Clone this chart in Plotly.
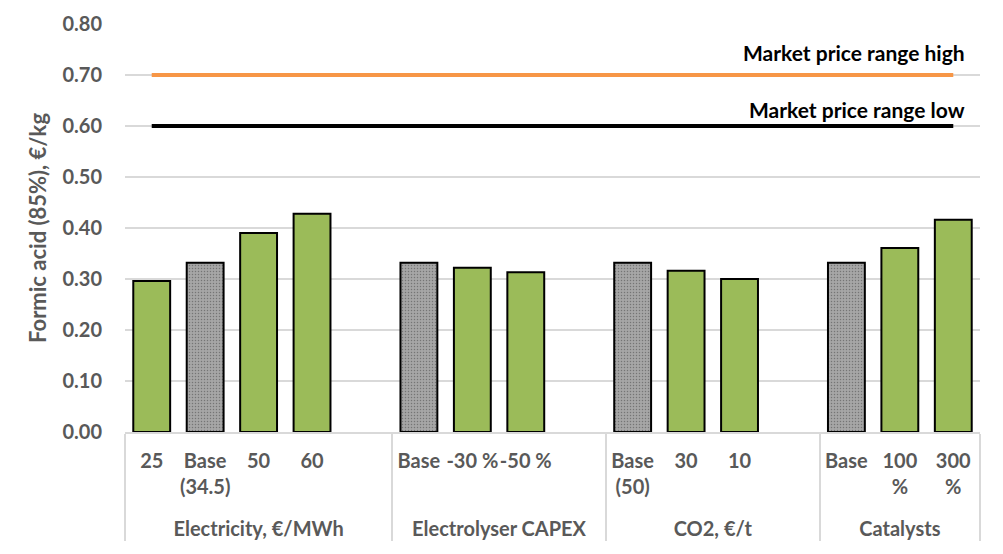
import plotly.graph_objects as go

groups = ["Electricity, €/MWh"] * 5 + ["Electrolyser CAPEX"] * 4 + ["CO2, €/t"] * 4 + ["Catalysts"] * 3
cats = ["25", "Base<br>(34.5)", "50", "60", " ",
        "Base", "-30 %", "-50 %", "  ",
        "Base<br>(50)", "30", "10", "   ",
        "Base", "100<br>%", "300<br>%"]
values = [0.296, 0.332, 0.390, 0.428, None,
          0.332, 0.322, 0.313, None,
          0.332, 0.316, 0.300, None,
          0.332, 0.361, 0.416]
is_base = [False, True, False, False, False,
           True, False, False, False,
           True, False, False, False,
           True, False, False]
market_high = [0.70] * len(cats)
market_low = [0.60] * len(cats)

GREEN = "#9BBB59"
GRAY = "#A6A6A6"
TXT = "#595959"
FONT = "Lato"

colors = [GRAY if b else GREEN for b in is_base]
patterns = ["." if b else "" for b in is_base]
# group labels sit one text line lower, below the two-line category labels
group_labels = ["<br>" + g for g in groups]

fig = go.Figure()
fig.add_trace(go.Bar(
    x=[group_labels, cats], y=values,
    marker=dict(color=colors, line=dict(color="black", width=2),
                pattern=dict(shape=patterns, fgcolor="#969696", bgcolor=GRAY, size=3, solidity=0.2)),
    width=0.69, showlegend=False, hoverinfo="y",
))
fig.add_trace(go.Scatter(x=[group_labels, cats], y=market_high, mode="lines",
                         line=dict(color="#F79646", width=4), showlegend=False))
fig.add_trace(go.Scatter(x=[group_labels, cats], y=market_low, mode="lines",
                         line=dict(color="black", width=4), showlegend=False))

fig.add_annotation(text="<b>Market price range high</b>", xref="paper", yref="y",
                   x=0.985, y=0.744, xanchor="right", yanchor="middle", showarrow=False,
                   font=dict(family=FONT, size=21, color="black"))
fig.add_annotation(text="<b>Market price range low</b>", xref="paper", yref="y",
                   x=0.985, y=0.632, xanchor="right", yanchor="middle", showarrow=False,
                   font=dict(family=FONT, size=21, color="black"))

fig.update_layout(
    width=1003, height=554,
    margin=dict(l=125, r=23, t=24, b=122),
    paper_bgcolor="white", plot_bgcolor="white",
    font=dict(family=FONT, color=TXT),
    bargap=0.3,
    xaxis=dict(type="multicategory", showline=True, linecolor="#D9D9D9", linewidth=1.5,
               showdividers=True, dividercolor="#D9D9D9", dividerwidth=1.5,
               tickfont=dict(family=FONT, size=20, color=TXT, weight="bold"),
               tickangle=0, ticklabelstandoff=10, automargin=False,
               showgrid=False, ticks=""),
    yaxis=dict(range=[0, 0.8], dtick=0.1, tickformat=".2f", showgrid=True,
               gridcolor="#D9D9D9", gridwidth=1.5, zeroline=False, showline=False,
               tickfont=dict(family=FONT, size=20, color=TXT, weight="bold"),
               ticklabelstandoff=22, automargin=False,
               title=dict(text="Formic acid (85%), €/kg", standoff=9,
                          font=dict(family=FONT, size=22, color=TXT, weight="bold"))),
)

fig.write_html("out.html", config={"displayModeBar": False},
               post_script="document.body.style.margin='0';")
